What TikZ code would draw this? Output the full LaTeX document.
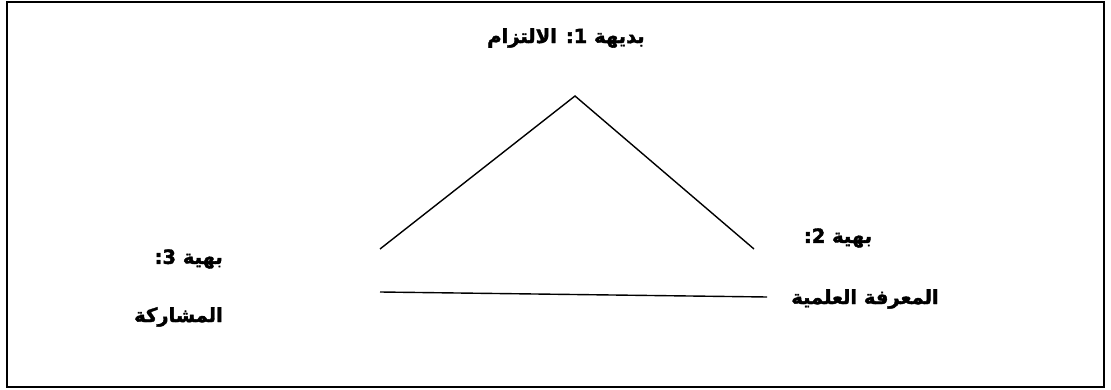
\documentclass[tikz,border=0pt]{standalone}
\usepackage{fontspec}
\newfontfamily\arabicfont[Script=Arabic,BoldFont={DejaVu Sans Bold},BoldFeatures={FakeBold=2}]{DejaVu Sans}
\TeXXeTstate=1
\tikzset{
  frame/.style={draw=black, line width=2pt},
  edge/.style={draw=black, line width=1.4pt},
  lbl/.style={font=\arabicfont\bfseries\fontsize{19.5}{23}\selectfont, inner sep=0pt}
}
\begin{document}
\begin{tikzpicture}[x=1pt,y=-1pt]
\useasboundingbox (0,0) rectangle (1111,390);
\draw[frame] (7,2) rectangle (1104,387);
\coordinate (L) at (380,249);
\coordinate (A) at (575,96);
\coordinate (R) at (754,249);
\coordinate (BL) at (380,292);
\coordinate (BR) at (767,297);
\draw[edge] (L) -- (A) -- (R);
\draw[edge] (BL) -- (BR);
\node[lbl] (t1) at (566,38) {\beginR بديهة \beginL 1\endL: الالتزام\endR};
\node[lbl, anchor=east] (t3) at (223,259) {\beginR بهية \beginL 3\endL:\endR};
\node[lbl, anchor=east] (t3b) at (223,317) {\beginR المشاركة\endR};
\node[lbl] (t2) at (838,238) {\beginR بهية \beginL 2\endL:\endR};
\node[lbl] (t2b) at (865,299) {\beginR المعرفة العلمية\endR};
\end{tikzpicture}
\end{document}
